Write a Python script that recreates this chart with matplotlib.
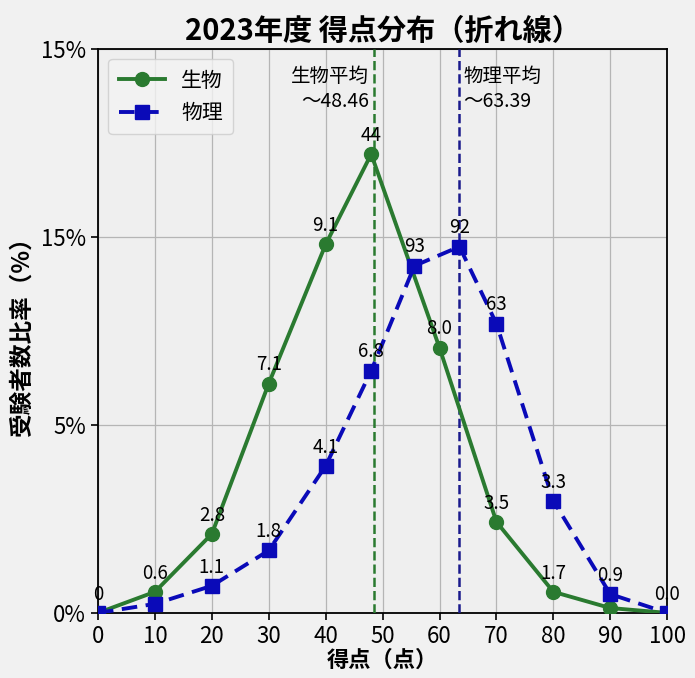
import matplotlib
matplotlib.use("Agg")
import matplotlib.pyplot as plt

plt.rcParams['font.family'] = ['Noto Sans CJK JP', 'DejaVu Sans']

# 生物 (biology)
bio_x = [0, 10, 20, 30, 40, 48, 60, 70, 80, 90, 100]
bio_y = [0.0, 0.56, 2.1, 6.1, 9.8, 12.2, 7.05, 2.42, 0.56, 0.13, 0.0]
bio_labels = ['0', '0.6', '2.8', '7.1', '9.1', '44', '8.0', '3.5', '1.7', '', '']

# 物理 (physics)
phy_x = [0, 10, 20, 30, 40, 48, 55.6, 63.5, 70, 80, 90, 100]
phy_y = [0.0, 0.24, 0.72, 1.66, 3.91, 6.44, 9.23, 9.74, 7.69, 2.98, 0.5, 0.0]
phy_labels = ['', '', '1.1', '1.8', '4.1', '6.8', '93', '92', '63', '3.3', '0.9', '0.0']

bio_mean = 48.46
phy_mean = 63.39

y_ticks = [0, 5, 10, 15]
y_tick_labels = ['0%', '5%', '15%', '15%']
x_ticks = list(range(0, 101, 10))

green = '#2a7a30'
blue = '#0a0ab8'
navy = '#1a1a8c'

fig = plt.figure(figsize=(6.95, 6.78), dpi=100)
fig.patch.set_facecolor('#f1f1f1')
ax = fig.add_axes([0.141, 0.096, 0.819, 0.832])
ax.set_facecolor('#efefef')

ax.plot(bio_x, bio_y, color=green, lw=2.8, marker='o', ms=10, label='生物', zorder=4)
ax.plot(phy_x, phy_y, color=blue, lw=2.8, ls=(0, (4, 2.2)), marker='s', ms=10,
        label='物理', zorder=5)

for x, y, t in zip(bio_x, bio_y, bio_labels):
    if t:
        ax.annotate(t, (x, y), xytext=(0, 6), textcoords='offset points',
                    ha='center', va='bottom', fontsize=13.5, zorder=6)
for x, y, t in zip(phy_x, phy_y, phy_labels):
    if t:
        ax.annotate(t, (x, y), xytext=(0, 6), textcoords='offset points',
                    ha='center', va='bottom', fontsize=13.5, zorder=6)

ax.axvline(bio_mean, color=green, ls='--', lw=1.8, zorder=3)
ax.axvline(phy_mean, color=navy, ls='--', lw=1.8, zorder=3)
ax.text(bio_mean - 0.8, 14.55, '生物平均\n～48.46', ha='right', va='top', fontsize=14,
        linespacing=1.25)
ax.text(phy_mean + 0.8, 14.55, '物理平均\n～63.39', ha='left', va='top', fontsize=14,
        linespacing=1.25)

ax.set_xlim(0, 100)
ax.set_ylim(0, 15)
ax.set_xticks(x_ticks)
ax.set_yticks(y_ticks)
ax.set_yticklabels(y_tick_labels)
ax.tick_params(labelsize=16, length=5, width=1.2)
ax.grid(True, color='#b5b5b5', lw=0.9)
ax.set_axisbelow(True)
for s in ax.spines.values():
    s.set_color('black')
    s.set_linewidth(1.3)

ax.set_xlabel('得点（点）', fontsize=16, fontweight='bold', labelpad=1)
ax.set_ylabel('受験者数比率（%）', fontsize=17, fontweight='bold', labelpad=5)
ax.set_title('2023年度 得点分布（折れ線）', fontsize=21, fontweight='bold', pad=6)

ax.legend(loc='upper left', fontsize=15, frameon=True, facecolor='#f3f3f3',
          edgecolor='#cccccc', borderpad=0.5, handlelength=2.2)

fig.savefig('out.png', dpi=100, facecolor=fig.get_facecolor())
